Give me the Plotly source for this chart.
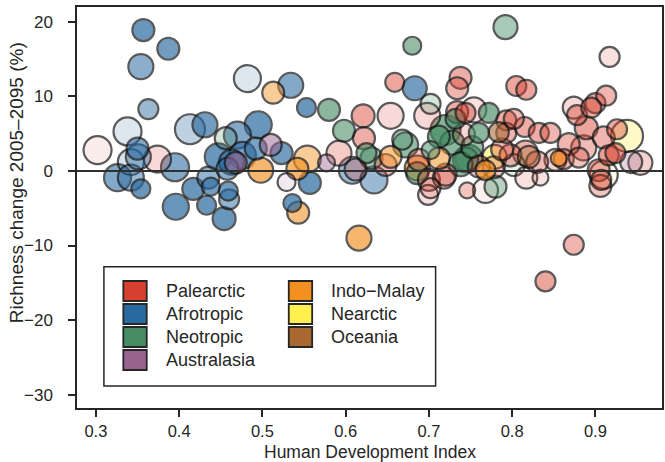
import plotly.graph_objects as go

# Biogeographic realms and their colours
realms = ["Palearctic", "Afrotropic", "Neotropic", "Australasia",
          "Indo\u2212Malay", "Nearctic", "Oceania"]
realm_colors = {
    "Palearctic": (215, 64, 47),
    "Afrotropic": (40, 105, 160),
    "Neotropic": (70, 140, 100),
    "Australasia": (152, 99, 143),
    "Indo\u2212Malay": (243, 144, 32),
    "Nearctic": (255, 240, 77),
    "Oceania": (168, 104, 47),
}

# Per-country values: realm, HDI, richness change (%), size class, weight
realm = (["Afrotropic"] * 38 + ["Neotropic"] * 24 + ["Palearctic"] * 62 +
         ["Indo\u2212Malay"] * 11 + ["Nearctic"] * 3 + ["Oceania"] * 2 +
         ["Australasia"] * 5)

hdi = [
    # Afrotropic
    0.357, 0.387, 0.354, 0.482, 0.534, 0.363, 0.553, 0.683, 0.338, 0.413,
    0.431, 0.495, 0.470, 0.350, 0.351, 0.342, 0.447, 0.476, 0.326, 0.342,
    0.354, 0.395, 0.417, 0.438, 0.396, 0.433, 0.459, 0.460, 0.454, 0.435,
    0.523, 0.557, 0.536, 0.608, 0.634, 0.463, 0.458, 0.492,
    # Neotropic
    0.680, 0.792, 0.580, 0.702, 0.598, 0.668, 0.720, 0.672, 0.625, 0.772,
    0.760, 0.748, 0.686, 0.744, 0.456, 0.780, 0.702, 0.732, 0.631, 0.802,
    0.728, 0.712, 0.752, 0.738,
    # Palearctic
    0.659, 0.738, 0.734, 0.734, 0.621, 0.654, 0.698, 0.622, 0.805, 0.817,
    0.917, 0.874, 0.878, 0.900, 0.913, 0.895, 0.889, 0.744, 0.754, 0.793,
    0.815, 0.832, 0.846, 0.816, 0.862, 0.886, 0.916, 0.924, 0.904, 0.907,
    0.954, 0.817, 0.834, 0.746, 0.768, 0.700, 0.699, 0.718, 0.874, 0.840,
    0.592, 0.648, 0.374, 0.302, 0.688, 0.778, 0.793, 0.802, 0.852, 0.798,
    0.720, 0.702, 0.910, 0.906, 0.760, 0.830, 0.868, 0.880, 0.926, 0.788,
    0.742, 0.612,
    # Indo-Malay
    0.513, 0.554, 0.542, 0.543, 0.616, 0.498, 0.654, 0.686, 0.712, 0.768,
    0.856,
    # Nearctic
    0.938, 0.779, 0.910,
    # Oceania
    0.784, 0.820,
    # Australasia
    0.510, 0.577, 0.529, 0.468, 0.943,
]

change = [
    # Afrotropic
    18.9, 16.4, 14.0, 12.4, 11.5, 8.3, 8.5, 11.1, 5.3, 5.6,
    6.2, 6.2, 4.8, 3.0, 1.9, 1.2, 1.9, 2.1, -0.9, -0.9,
    -2.4, 0.5, -2.4, -2.1, -4.8, -4.6, -2.7, -3.8, -6.4, -0.9,
    2.4, -1.6, -4.3, 0.1, -1.2, 1.2, 0.3, 3.0,
    # Neotropic
    16.8, 19.3, 8.2, 9.0, 5.4, 4.2, 5.5, 3.5, 2.4, 7.8,
    5.1, 1.7, -0.3, 1.5, 4.4, -2.1, 2.8, 7.0, 1.7, 0.8,
    3.8, 4.6, 3.2, 0.9,
    # Palearctic
    11.9, 12.5, 11.1, 7.9, 7.4, 7.4, 7.4, 4.4, 11.4, 10.9,
    15.3, 8.5, 7.5, 9.1, 10.1, 8.5, 5.8, 7.8, 8.2, 6.8,
    5.9, 5.1, 5.1, 2.4, 1.6, 3.1, 2.1, 2.4, 0.1, -1.2,
    1.1, -0.9, -0.9, -2.6, -2.6, -1.2, -3.2, -0.9, -9.9, -14.8,
    2.4, 0.8, 1.6, 2.8, 1.5, 0.5, 5.1, 7.0, 1.5, 2.1,
    -0.5, -2.3, 4.5, -2.0, 0.6, 1.2, 3.6, 1.8, 5.6, 2.9,
    4.9, 0.2,
    # Indo-Malay
    10.5, 1.6, 0.3, -5.6, -9.0, 0.1, 1.9, 0.4, 1.7, 0.1,
    1.7,
    # Nearctic
    4.7, 1.9, -0.5,
    # Oceania
    5.2, 1.9,
    # Australasia
    3.5, 1.1, -1.5, 1.1, 1.2,
]

# Relative country size (drives bubble diameter)
size_class = [
    # Afrotropic
    5, 5, 6.5, 7.5, 6.5, 4, 3.5, 6, 8, 9,
    6.5, 7.5, 7.5, 5, 6.5, 7, 7.5, 7.5, 7.5, 7,
    3.5, 8, 5, 3, 7, 3.5, 3.5, 4, 5.5, 5,
    5, 5, 3, 7.5, 7.5, 6.5, 5, 5,
    # Neotropic
    3, 6, 5, 4, 5, 4, 9, 6.5, 4, 4,
    4, 7.5, 5, 6.5, 5, 5, 3, 4, 5, 5,
    6, 5, 5, 6,
    # Palearctic
    3.5, 5, 5, 5, 5.5, 7, 7, 5, 4, 4,
    4, 5, 4, 4, 4, 4, 5.5, 4, 6.5, 4,
    4, 4, 4, 6.5, 4, 6.5, 4, 4, 5, 4,
    6, 5, 2, 2, 6.5, 5, 4, 5, 4, 4,
    6.5, 5, 7.5, 8, 5, 5, 4, 4, 5, 5,
    5, 4, 5, 5, 5, 5, 5, 4, 4, 5,
    5, 5,
    # Indo-Malay
    5, 7.5, 5, 5, 6.5, 6.5, 5, 6.5, 5, 4,
    2,
    # Nearctic
    10, 6, 8,
    # Oceania
    4, 5,
    # Australasia
    5, 2.5, 3, 5, 5,
]

# Weight of each country (drives fill opacity)
weight = [
    # Afrotropic
    .85, .80, .65, .15, .70, .55, .85, .80, .15, .35,
    .80, .85, .70, .70, .50, .20, .85, .75, .70, .55,
    .90, .70, .85, .80, .85, .90, .80, .60, .85, .60,
    .80, .85, .85, .55, .55, .70, .65, .75,
    # Neotropic
    .70, .55, .75, .25, .70, .40, .80, .70, .70, .80,
    .75, .85, .70, .75, .25, .45, .60, .70, .55, .12,
    .75, .80, .65, .70,
    # Palearctic
    .55, .50, .45, .50, .55, .20, .20, .50, .55, .55,
    .15, .20, .50, .55, .45, .50, .55, .55, .15, .50,
    .50, .50, .45, .45, .45, .40, .60, .60, .50, .40,
    .25, .15, .15, .35, .05, .35, .15, .40, .45, .55,
    .30, .40, .20, .08, .35, .35, .45, .40, .25, .40,
    .30, .20, .45, .35, .30, .40, .45, .35, .50, .40,
    .20, .30,
    # Indo-Malay
    .55, .55, .80, .70, .80, .80, .60, .80, .60, .85,
    .90,
    # Nearctic
    .35, .60, .10,
    # Oceania
    .70, .45,
    # Australasia
    .60, .50, .12, .70, .30,
]


def diameter(s):
    return 12 + 2 * s


def fill(r, w):
    c = realm_colors[r]
    a = min(1.0, 0.05 + 1.1 * w)
    return "rgba(%d,%d,%d,%.2f)" % (c[0], c[1], c[2], a)


# Large bubbles first, small ones on top
order = sorted(range(len(hdi)), key=lambda i: -size_class[i])

fig = go.Figure()
fig.add_trace(go.Scatter(
    x=[hdi[i] for i in order],
    y=[change[i] for i in order],
    mode="markers",
    marker=dict(
        size=[diameter(size_class[i]) for i in order],
        color=[fill(realm[i], weight[i]) for i in order],
        line=dict(color="#151515", width=2.2),
    ),
    text=[realm[i] for i in order],
    hovertemplate="%{text}<br>HDI %{x}<br>%{y}%<extra></extra>",
    showlegend=False,
))

font = "Liberation Sans, Arial, Helvetica, sans-serif"
ink = "#262626"

shapes = [
    # zero reference line
    dict(type="line", xref="paper", yref="y", x0=0, x1=1, y0=0, y1=0,
         line=dict(color="#303030", width=2), layer="above"),
    # legend frame
    dict(type="rect", xref="paper", yref="paper", x0=0.046, x1=0.613,
         y0=0.055, y1=0.352, line=dict(color=ink, width=1.5),
         fillcolor="white", layer="above"),
]
annotations = []

# Legend laid out in two columns
legend_cols = [realms[:4], realms[4:]]
col_x = [0.0792, 0.362]
label_x = [0.1482, 0.431]
row_top = 0.3167
row_step = 0.05736
sq_w = 0.040
sq_h = 0.0499
for ci, names in enumerate(legend_cols):
    for ri, name in enumerate(names):
        top = row_top - ri * row_step
        c = realm_colors[name]
        shapes.append(dict(
            type="rect", xref="paper", yref="paper",
            x0=col_x[ci], x1=col_x[ci] + sq_w, y0=top - sq_h, y1=top,
            fillcolor="rgb(%d,%d,%d)" % c,
            line=dict(color=ink, width=1.8), layer="above"))
        annotations.append(dict(
            xref="paper", yref="paper", x=label_x[ci], y=top - sq_h / 2,
            text=name, showarrow=False, xanchor="left", yanchor="middle",
            font=dict(family=font, size=18, color=ink)))

# Axis titles
annotations.append(dict(
    xref="paper", yref="paper", x=0.5, y=-0.1085, text="Human Development Index",
    showarrow=False, xanchor="center", yanchor="middle",
    font=dict(family=font, size=17.5, color=ink)))
annotations.append(dict(
    xref="paper", yref="paper", x=-0.104, y=0.561,
    text="Richness change 2005\u20132095 (%)", textangle=-90,
    showarrow=False, xanchor="center", yanchor="middle",
    font=dict(family=font, size=19, color=ink)))

fig.update_layout(
    width=665, height=462,
    margin=dict(l=77, r=1, t=7, b=54),
    paper_bgcolor="white", plot_bgcolor="white",
    font=dict(family=font, size=18, color=ink),
    shapes=shapes, annotations=annotations,
    hovermode="closest",
)
fig.update_xaxes(
    range=[0.2773, 0.980], tickmode="array",
    tickvals=[0.3, 0.4, 0.5, 0.6, 0.7, 0.8, 0.9],
    ticktext=["0.3", "0.4", "0.5", "0.6", "0.7", "0.8", "0.9"],
    ticks="outside", ticklen=7, tickwidth=1.5, tickcolor=ink,
    showline=True, mirror=True, linecolor=ink, linewidth=1.5,
    showgrid=False, zeroline=False, ticklabelstandoff=0,
    tickfont=dict(size=16.5),
)
fig.update_yaxes(
    range=[-31.8, 22.0], tickmode="array",
    tickvals=[-30, -20, -10, 0, 10, 20],
    ticks="outside", ticklen=7, tickwidth=1.5, tickcolor=ink,
    showline=True, mirror=True, linecolor=ink, linewidth=1.5,
    showgrid=False, zeroline=False, ticklabelstandoff=12,
    tickfont=dict(size=17),
)

fig.write_html("out.html")
